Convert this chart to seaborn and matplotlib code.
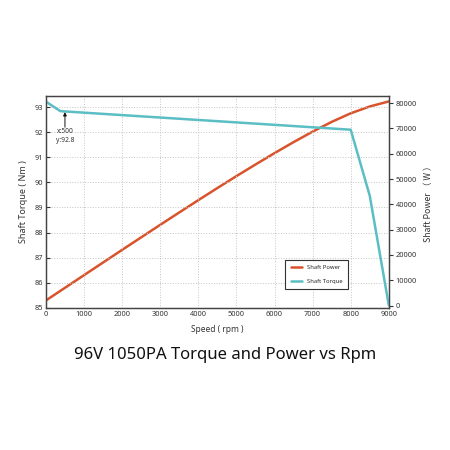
import matplotlib
matplotlib.use('Agg')
import matplotlib.pyplot as plt
import seaborn as sns
import pandas as pd

# speed axis (rpm)
power_rpm = [0, 500, 1000, 1500, 2000, 2500, 3000, 3500, 4000, 4500, 5000,
             5500, 6000, 6500, 7000, 7500, 8000, 8500, 9000]
# shaft power (W)
power_w = [2000, 7000, 12000, 17000, 22000, 26950, 31900, 36800, 41650, 46450,
           51150, 55750, 60250, 64600, 68750, 72600, 76000, 78700, 80700]

torque_rpm = [0, 380, 8000, 8500, 9000]
# shaft torque (Nm)
torque_nm = [93.22, 92.84, 92.1, 89.47, 85.1]

x_ticks = [0, 1000, 2000, 3000, 4000, 5000, 6000, 7000, 8000, 9000]
left_ticks = [85, 86, 87, 88, 89, 90, 91, 92, 93]
right_ticks = [0, 10000, 20000, 30000, 40000, 50000, 60000, 70000, 80000]

POWER_COLOR = '#d9542c'
TORQUE_COLOR = '#5bbec4'

sns.set_style('white')
plt.rcParams['font.family'] = ['Noto Sans', 'DejaVu Sans']

df_power = pd.DataFrame({'rpm': power_rpm, 'power': power_w})
df_torque = pd.DataFrame({'rpm': torque_rpm, 'torque': torque_nm})

fig = plt.figure(figsize=(4.5, 4.5), dpi=100)
ax = fig.add_axes([0.102, 0.316, 0.762, 0.471])
ax2 = ax.twinx()

sns.lineplot(data=df_power, x='rpm', y='power', ax=ax2, color=POWER_COLOR,
             linewidth=1.8, label='Shaft Power', legend=False)
ax2.set_zorder(1)
ax.set_zorder(2)
ax.patch.set_visible(False)
sns.lineplot(data=df_torque, x='rpm', y='torque', ax=ax, color=TORQUE_COLOR,
             linewidth=1.8, label='Shaft Torque', legend=False)

ax.set_xlim(0, 9000)
ax.set_ylim(85, 93.45)
ax2.set_ylim(-900, 82900)
ax.set_xticks(x_ticks)
ax.set_yticks(left_ticks)
ax2.set_yticks(right_ticks)

ax2.grid(False)
ax.grid(True, linestyle=':', color='#c4c4c4', linewidth=0.7)

for a in (ax, ax2):
    for s in a.spines.values():
        s.set_color('#444444')
        s.set_linewidth(0.9)

ax.tick_params(axis='both', direction='in', length=3, width=0.8, labelsize=5.3,
               colors='#333333', pad=2)
ax2.tick_params(axis='y', direction='out', length=3, width=0.8, labelsize=5.3,
                colors='#333333', pad=2)

ax.set_xlabel('Speed ( rpm )', fontsize=6, color='#333333', labelpad=5)
ax.set_ylabel('Shaft Torque ( Nm )', fontsize=6.5, color='#333333', labelpad=5)
ax2.set_ylabel('Shaft Power （ W ）', fontsize=6.3, color='#333333', labelpad=5,
               family=['Noto Sans CJK SC', 'DejaVu Sans'])

ax.text(520, 91.84, 'x:500\ny:92.8', fontsize=4.8, color='#333333',
        ha='center', va='center', linespacing=1.5)
ax.annotate('', xy=(500, 92.8), xytext=(500, 92.2),
            arrowprops=dict(arrowstyle='-|>', color='#111111', lw=0.7,
                            mutation_scale=5, shrinkA=0, shrinkB=0))

h2, l2 = ax2.get_legend_handles_labels()
h1, l1 = ax.get_legend_handles_labels()
leg = ax.legend(h2 + h1, l2 + l1, loc='lower right', bbox_to_anchor=(0.889, 0.075),
                fontsize=4.2, frameon=True, fancybox=False, handlelength=2.0,
                borderpad=0.9, labelspacing=1.4, framealpha=1)
leg.get_frame().set_edgecolor('#333333')
leg.get_frame().set_linewidth(0.8)

fig.text(0.5, 0.211, '96V 1050PA Torque and Power vs Rpm', ha='center',
         va='center', fontsize=12, color='#111111')

fig.savefig('out.png', dpi=100, facecolor='white')
